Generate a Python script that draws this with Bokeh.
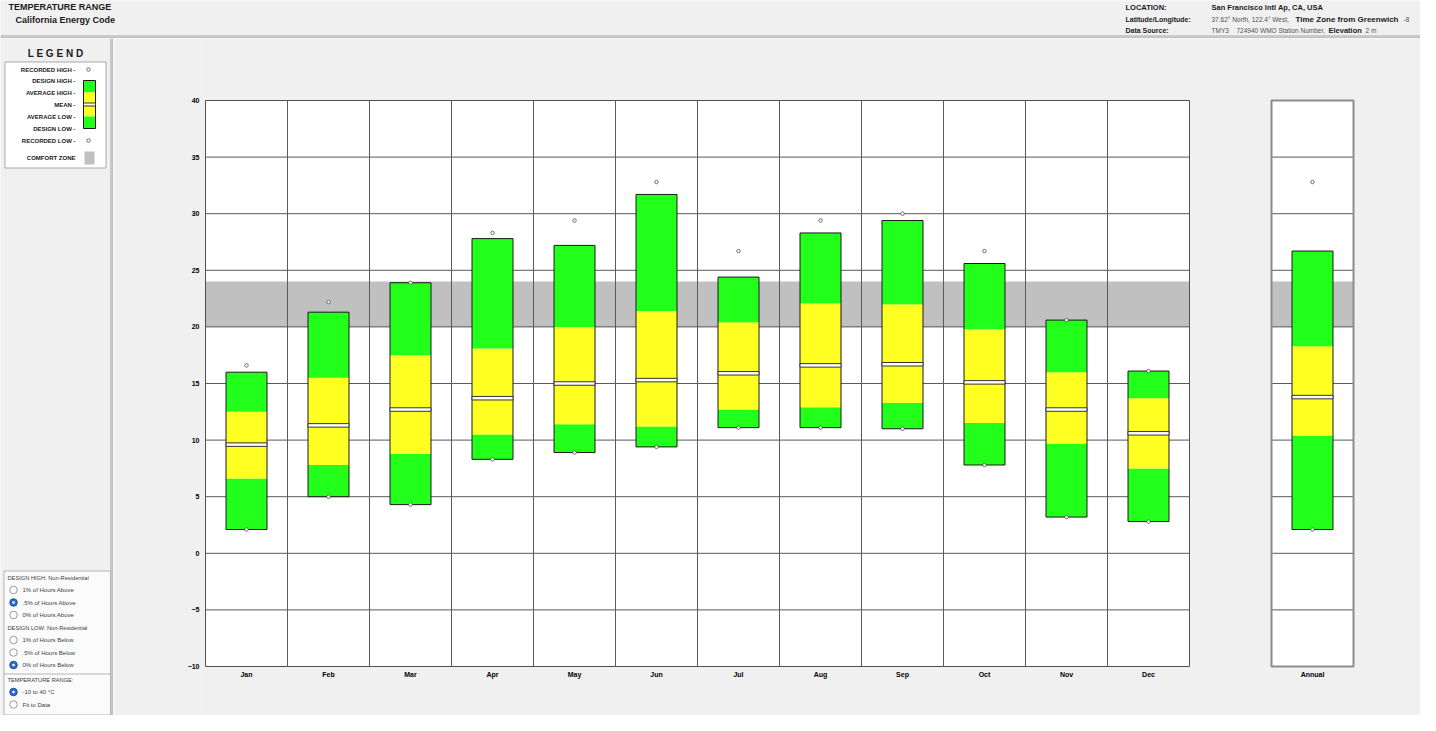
from bokeh.plotting import figure
from bokeh.layouts import row, column
from bokeh.models import Range1d, FixedTicker, ColumnDataSource
from bokeh.core.properties import value
from bokeh.embed import file_html
from bokeh.resources import INLINE

# ---------------- data (deg C) ----------------
months = ["Jan", "Feb", "Mar", "Apr", "May", "Jun", "Jul", "Aug", "Sep", "Oct", "Nov", "Dec"]
recorded_high = [16.6, 22.2, 23.9, 28.3, 29.4, 32.8, 26.7, 29.4, 30.0, 26.7, 20.6, 16.1]
design_high   = [16.0, 21.3, 23.9, 27.8, 27.2, 31.7, 24.4, 28.3, 29.4, 25.6, 20.6, 16.1]
average_high  = [12.5, 15.5, 17.5, 18.1, 20.0, 21.4, 20.4, 22.1, 22.0, 19.8, 16.0, 13.7]
mean_temp     = [9.6, 11.3, 12.7, 13.7, 15.0, 15.3, 15.9, 16.6, 16.7, 15.1, 12.7, 10.6]
average_low   = [6.6, 7.8, 8.8, 10.5, 11.4, 11.2, 12.7, 12.9, 13.3, 11.5, 9.7, 7.5]
design_low    = [2.1, 5.0, 4.3, 8.3, 8.9, 9.4, 11.1, 11.1, 11.0, 7.8, 3.2, 2.8]
recorded_low  = [2.1, 5.0, 4.3, 8.3, 8.9, 9.4, 11.1, 11.1, 11.0, 7.8, 3.2, 2.8]

annual_labels = ["Annual"]
annual_recorded_high = [32.8]
annual_design_high = [26.7]
annual_average_high = [18.3]
annual_mean = [13.8]
annual_average_low = [10.4]
annual_design_low = [2.1]
annual_recorded_low = [2.1]

y_ticks = [-10, -5, 0, 5, 10, 15, 20, 25, 30, 35, 40]
comfort_zone = [20, 24]

legend_labels = ["RECORDED HIGH -", "DESIGN HIGH -", "AVERAGE HIGH -", "MEAN -",
                 "AVERAGE LOW -", "DESIGN LOW -", "RECORDED LOW -"]

# ---------------- layout constants (pixels) ----------------
BG = "#f0f0f0"
GREEN = "#22ff1a"
YELLOW = "#ffff22"
COMFORT = "#c0c0c0"
GRID = "#5a5a5a"
FONT = "Liberation Sans"

PAGE_W, PAGE_H = 1420, 715
HEAD_H = 38
LEFT_W = 113
ROW_H = PAGE_H - HEAD_H
PANEL_TOP, PANEL_BOTTOM = 100, 666          # page y of the top and bottom tick
PANEL_LEFT = 205                            # page x of the January column's left edge
COL_PX = 82
PAD_PX = 4
PX_PER_DEG = (PANEL_BOTTOM - PANEL_TOP) / (y_ticks[-1] - y_ticks[0])
Y_HI = y_ticks[-1] + (PANEL_TOP - HEAD_H) / PX_PER_DEG
Y_LO = y_ticks[0] - (PAGE_H - PANEL_BOTTOM) / PX_PER_DEG
X_LO = -PAD_PX / COL_PX
X_HI = (PAGE_W - PANEL_LEFT) / COL_PX

chart = figure(width=PAGE_W - LEFT_W, height=ROW_H, title=None,
               x_range=Range1d(X_LO, X_HI), y_range=Range1d(Y_LO, Y_HI),
               output_backend="svg", toolbar_location=None,
               x_axis_location=None, y_axis_location="left",
               min_border_left=PANEL_LEFT - LEFT_W - PAD_PX, min_border_right=0,
               min_border_top=0, min_border_bottom=0,
               background_fill_color=BG, border_fill_color=BG,
               outline_line_color=None)
chart.grid.visible = False
ax = chart.yaxis[0]
ax.ticker = FixedTicker(ticks=y_ticks)
ax.axis_line_color = None
ax.major_tick_line_color = None
ax.minor_tick_line_color = None
ax.major_tick_out = 0
ax.major_tick_in = 0
ax.major_label_standoff = 2
ax.major_label_text_font = FONT
ax.major_label_text_font_size = "7px"
ax.major_label_text_font_style = "bold"
ax.major_label_text_color = "#000000"


def draw_panel(p, x0, labels, rh, dh, ah, mn, al, dl, rl, outline_color, outline_width):
    n = len(labels)
    xs = [x0 + i + 0.5 for i in range(n)]
    lo, hi = y_ticks[0], y_ticks[-1]
    # white plotting panel and comfort zone
    p.quad(left=x0, right=x0 + n, bottom=lo, top=hi, fill_color="white", line_color=None)
    p.quad(left=x0, right=x0 + n, bottom=comfort_zone[0], top=comfort_zone[1],
           fill_color=COMFORT, line_color=None)
    # grid lines
    vx = [x0 + i for i in range(1, n)]
    if vx:
        p.segment(x0=vx, y0=[lo] * len(vx), x1=vx, y1=[hi] * len(vx),
                  line_color=GRID, line_width=1)
    hy = y_ticks[1:-1]
    p.segment(x0=[x0] * len(hy), y0=hy, x1=[x0 + n] * len(hy), y1=hy,
              line_color=GRID, line_width=1)

    src = ColumnDataSource(dict(x=xs, rh=rh, dh=dh, ah=ah, mn=mn, al=al, dl=dl, rl=rl,
                                lab=labels, base=[lo] * n))
    p.vbar(x="x", width=0.5, bottom="dl", top="al", source=src,
           fill_color=GREEN, line_color=None)
    p.vbar(x="x", width=0.5, bottom="al", top="ah", source=src,
           fill_color=YELLOW, line_color=None)
    p.vbar(x="x", width=0.5, bottom="ah", top="dh", source=src,
           fill_color=GREEN, line_color=None)
    p.vbar(x="x", width=0.5, bottom="dl", top="dh", source=src,
           fill_color=None, line_color="#1a1a1a", line_width=1)
    p.rect(x="x", y="mn", width=0.5, height=3.5, height_units="screen", source=src,
           fill_color="white", line_color="#333333", line_width=1)
    for col in ("rh", "rl"):
        p.scatter(x="x", y=col, source=src, marker="circle", size=3.5,
                  fill_color="white", line_color="#505050", line_width=0.8)
    # panel border
    p.quad(left=x0, right=x0 + n, bottom=lo, top=hi, fill_color=None,
           line_color=outline_color, line_width=outline_width)
    # category labels under the panel
    p.text(x="x", y="base", text="lab", source=src, y_offset=4,
           text_font=value(FONT), text_font_size="7px", text_font_style="bold",
           text_color="#000000", text_align="center", text_baseline="top")


draw_panel(chart, 0, months, recorded_high, design_high, average_high, mean_temp,
           average_low, design_low, recorded_low, "#505050", 1)
draw_panel(chart, len(months) + 1, annual_labels, annual_recorded_high, annual_design_high,
           annual_average_high, annual_mean, annual_average_low,
           annual_design_low, annual_recorded_low, "#8c8c8c", 2)


def deco(width, height, x0, x1, y0, y1):
    d = figure(width=width, height=height, title=None,
               x_range=Range1d(x0, x1), y_range=Range1d(y1, y0),
               output_backend="svg", toolbar_location=None,
               x_axis_location=None, y_axis_location=None,
               min_border=0, min_border_left=0, min_border_right=0,
               min_border_top=0, min_border_bottom=0, outline_line_color=None,
               background_fill_color=BG, border_fill_color=BG)
    d.grid.visible = False
    return d


def txt(d, x, y, s, size="7px", bold=False, color="#1a1a1a", align="left"):
    d.text(x=[x], y=[y], text=[s], text_font=value(FONT), text_font_size=size,
           text_font_style="bold" if bold else "normal", text_color=color,
           text_align=align, text_baseline="middle")


# ---------------- header ----------------
head = deco(PAGE_W, HEAD_H, 0, PAGE_W, 0, HEAD_H)
head.segment(x0=[0, 0], y0=[35.5, 37.5], x1=[PAGE_W, PAGE_W], y1=[35.5, 37.5],
             line_color=["#a4a4a4", "#8c8c8c"], line_width=1)
txt(head, 8, 6.5, "TEMPERATURE RANGE", "9px", True)
txt(head, 15, 19, "California Energy Code", "9px", True)

txt(head, 1125, 7, "LOCATION:", "7.5px", True)
txt(head, 1211, 7, "San Francisco Intl Ap, CA, USA", "7.5px", True)
txt(head, 1125, 18.5, "Latitude/Longitude:", "7px", True)
txt(head, 1211, 18.5, "37.62° North,  122.4° West,", "6.5px", False, "#505050")
txt(head, 1295, 18.5, "Time Zone from Greenwich", "8px", True)
txt(head, 1403, 18.5, "-8", "6.5px", False, "#505050")
txt(head, 1125, 29.5, "Data Source:", "7px", True)
txt(head, 1211, 29.5, "TMY3", "6.5px", False, "#505050")
txt(head, 1236, 29.5, "724940 WMO Station Number,", "6.5px", False, "#505050")
txt(head, 1328, 29.5, "Elevation", "7.5px", True)
txt(head, 1365, 29.5, "2 m", "6.5px", False, "#505050")

# ---------------- left panel ----------------
left = deco(LEFT_W, ROW_H, 0, LEFT_W, HEAD_H, PAGE_H)
left.segment(x0=[110.5, 112.5], y0=[HEAD_H, HEAD_H], x1=[110.5, 112.5], y1=[PAGE_H, PAGE_H],
             line_color=["#a0a0a0", "#8c8c8c"], line_width=1)

# legend box
left.quad(left=4.5, right=105.5, top=61.5, bottom=167.5,
          fill_color="white", line_color="#a8a8a8", line_width=1)
txt(left, 55, 53, "L E G E N D", "10px", True, "#202020", "center")
legend_y = [69, 80, 92, 104, 116, 128, 140]
left.text(x=[75] * len(legend_labels), y=legend_y, text=legend_labels,
          text_font=value(FONT), text_font_size="6px", text_font_style="bold",
          text_color="#202020", text_align="right", text_baseline="middle")
left.quad(left=[83, 83, 83, 83], right=[95, 95, 95, 95],
          top=[80, 92, 104, 116], bottom=[92, 104, 116, 128],
          fill_color=[GREEN, YELLOW, YELLOW, GREEN], line_color=None)
left.quad(left=83, right=95, top=80, bottom=128, fill_color=None,
          line_color="#1a1a1a", line_width=1)
left.quad(left=83, right=95, top=102.5, bottom=105.5, fill_color="white",
          line_color="#333333", line_width=1)
left.scatter(x=[88, 88], y=[69, 140], marker="circle", size=3.5,
             fill_color="white", line_color="#505050", line_width=0.8)
left.quad(left=84, right=94, top=151, bottom=164, fill_color=COMFORT, line_color=None)
txt(left, 75, 157, "COMFORT ZONE", "6px", True, "#202020", "right")

# controls box
left.quad(left=3.5, right=110, top=570.5, bottom=714.5,
          fill_color="#fbfbfb", line_color="#b4b4b4", line_width=1)
left.segment(x0=[3.5], y0=[673.5], x1=[110], y1=[673.5], line_color="#b4b4b4")
txt(left, 7, 577, "DESIGN HIGH:  Non-Residential", "5.7px", False, "#404040")
txt(left, 7, 627, "DESIGN LOW:  Non-Residential", "5.7px", False, "#404040")
txt(left, 7, 679, "TEMPERATURE RANGE:", "5.7px", False, "#404040")
radio_text = ["1% of Hours Above", ".5% of Hours Above", "0% of Hours Above",
              "1% of Hours Below", ".5% of Hours Below", "0% of Hours Below",
              "-10 to 40 °C", "Fit to Data"]
radio_y = [589.5, 602, 614.5, 639.5, 652, 664.5, 691.5, 704]
radio_sel = [False, True, False, False, False, True, True, False]
left.text(x=[22] * len(radio_text), y=radio_y, text=radio_text,
          text_font=value(FONT), text_font_size="6px", text_color="#404040",
          text_align="left", text_baseline="middle")
un_y = [y for y, s in zip(radio_y, radio_sel) if not s]
se_y = [y for y, s in zip(radio_y, radio_sel) if s]
left.scatter(x=[13] * len(un_y), y=un_y, marker="circle", size=7.5,
             fill_color="white", line_color="#9a9a9a", line_width=1)
left.scatter(x=[13] * len(se_y), y=se_y, marker="circle", size=7.5,
             fill_color="#2b6fcf", line_color="#1c4f9a", line_width=1)
left.scatter(x=[13] * len(se_y), y=se_y, marker="circle", size=2.5,
             fill_color="white", line_color=None)

layout = column(head, row(left, chart, spacing=0), spacing=0)

open("out.html", "w").write(file_html(layout, INLINE))
